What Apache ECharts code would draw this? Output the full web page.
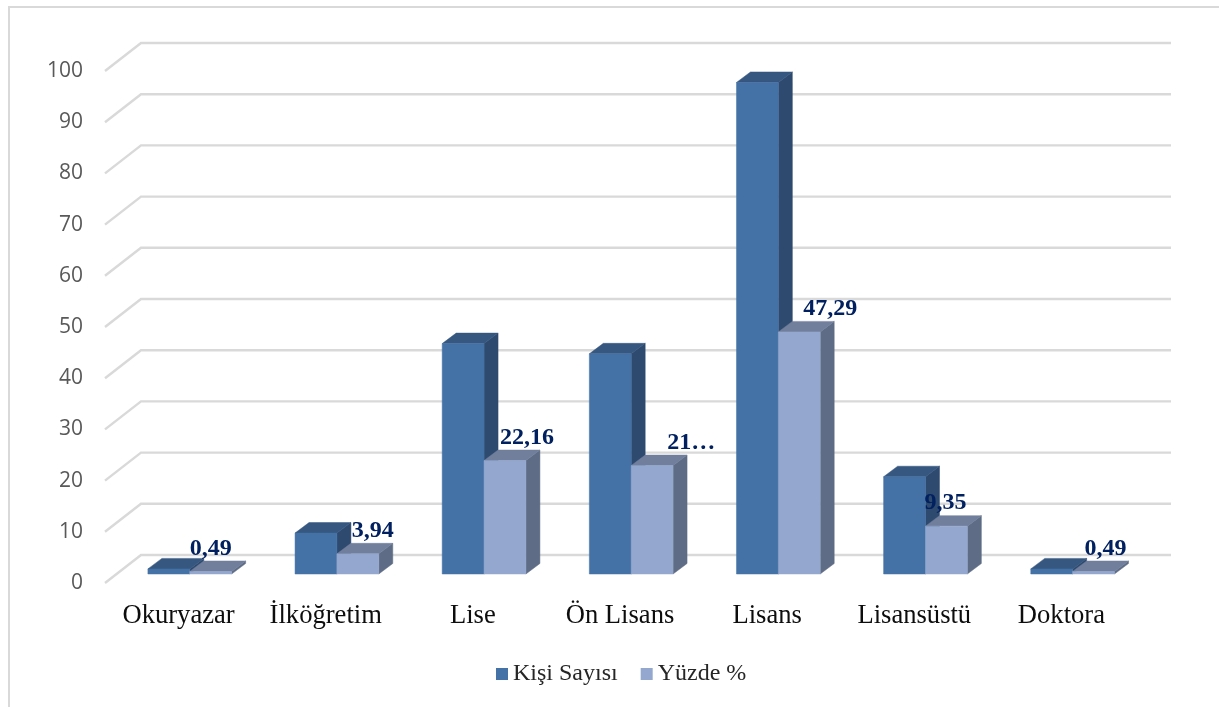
<!DOCTYPE html>
<html>
<head>
<meta charset="utf-8">
<style>html,body{margin:0;padding:0;background:#fff}#c{width:1219px;height:707px}</style>
<script src="https://cdn.jsdelivr.net/npm/echarts@6/dist/echarts.min.js"></script>
</head>
<body>
<div id="c"></div>
<script>
const categories = ['Okuryazar', 'İlköğretim', 'Lise', 'Ön Lisans', 'Lisans', 'Lisansüstü', 'Doktora'];
const kisiSayisi = [1, 8, 45, 43, 96, 19, 1];
const yuzde = [0.49, 3.94, 22.16, 21.18, 47.29, 9.35, 0.49];
const yuzdeLabels = ['0,49', '3,94', '22,16', '21…', '47,29', '9,35', '0,49'];
const valueTicks = [0, 10, 20, 30, 40, 50, 60, 70, 80, 90, 100];

const labelShiftX = [0, 15, 22, 39, 31, -1, 12];
const WALL = {dx: 36, dy: -28};
const FLOOR = {dx: 11.2, dy: -9};
const BAR = {dx: 14, dy: -10.5, frac: 0.2845};
const serif = '"Liberation Serif", serif';

function box(api, idx, val, side, cols) {
  const c = api.coord([idx, 0]);
  const w = api.size([1, 0])[0] * BAR.frac;
  const h = api.size([0, val])[1];
  const x0 = c[0] + FLOOR.dx + (side === 0 ? -w : 0);
  const y0 = c[1] + FLOOR.dy;
  const yt = y0 - h;
  const poly = (pts, fill) => ({type: 'polygon', shape: {points: pts}, style: {fill: fill, stroke: fill, lineWidth: 0.5}});
  return {
    type: 'group',
    children: [
      poly([[x0 + w, y0], [x0 + w + BAR.dx, y0 + BAR.dy], [x0 + w + BAR.dx, yt + BAR.dy], [x0 + w, yt]], cols[2]),
      poly([[x0, yt], [x0 + BAR.dx, yt + BAR.dy], [x0 + w + BAR.dx, yt + BAR.dy], [x0 + w, yt]], cols[1]),
      poly([[x0, y0], [x0 + w, y0], [x0 + w, yt], [x0, yt]], cols[0])
    ]
  };
}

const blue = ['#4472A6', '#36577F', '#2E4A6E'];
const light = ['#94A8CF', '#717F9D', '#5E6C85'];

const chart = echarts.init(document.getElementById('c'), null, {renderer: 'canvas'});
chart.setOption({
  animation: false,
  backgroundColor: '#fff',
  graphic: [{
    type: 'polyline',
    shape: {points: [[9, 707], [9, 7], [1219, 7]]},
    style: {stroke: '#D9D9D9', lineWidth: 2, fill: null},
    silent: true
  }],
  grid: {left: 105, top: 71, width: 1030, height: 512, containLabel: false},
  legend: {
    data: ['Kişi Sayısı', 'Yüzde %'],
    left: 496, top: 662, padding: 0,
    itemWidth: 12, itemHeight: 12, itemGap: 23,
    icon: 'rect',
    textStyle: {fontFamily: serif, fontSize: 24, color: '#262626'}
  },
  xAxis: {
    type: 'category', data: categories,
    axisLine: {show: false}, axisTick: {show: false},
    axisLabel: {fontFamily: serif, fontSize: 26.6, color: '#0d0d0d', margin: 20, interval: 0}
  },
  yAxis: {
    type: 'value', min: 0, max: 100, interval: 10,
    splitLine: {show: false}, axisLine: {show: false}, axisTick: {show: false},
    axisLabel: {fontFamily: '"Open Sans", sans-serif', fontSize: 21, color: '#595959', margin: 22, padding: [3, 0, 0, 0]}
  },
  series: [
    {
      type: 'custom', name: 'grid3d', silent: true, z: 1,
      data: valueTicks.map(t => [0, t]),
      renderItem(params, api) {
        const cs = params.coordSys;
        const y = api.coord([0, api.value(1)])[1];
        return {
          type: 'polyline',
          shape: {points: [[cs.x, y], [cs.x + WALL.dx, y + WALL.dy], [cs.x + cs.width + WALL.dx, y + WALL.dy]]},
          style: {stroke: '#D9D9D9', lineWidth: 2.4, fill: null}
        };
      }
    },
    {
      type: 'custom', name: 'Kişi Sayısı', z: 2, silent: true,
      itemStyle: {color: blue[0]},
      data: kisiSayisi.map((v, i) => [i, v]),
      renderItem(params, api) { return box(api, api.value(0), api.value(1), 0, blue); }
    },
    {
      type: 'custom', name: 'Yüzde %', z: 3, silent: true,
      itemStyle: {color: light[0]},
      data: yuzde.map((v, i) => [i, v]),
      renderItem(params, api) { return box(api, api.value(0), api.value(1), 1, light); }
    },
    {
      type: 'custom', name: 'labels', z: 4, silent: true,
      data: yuzde.map((v, i) => [i, v]),
      renderItem(params, api) {
        const i = api.value(0);
        const c = api.coord([i, api.value(1)]);
        const w = api.size([1, 0])[0] * BAR.frac;
        return {
          type: 'text',
          style: {
            x: c[0] + FLOOR.dx + w / 2 + labelShiftX[i],
            y: c[1] + FLOOR.dy - 23,
            text: yuzdeLabels[i],
            fontFamily: serif, fontSize: 24, fontWeight: 'bold', fill: '#002060',
            align: 'center', verticalAlign: 'middle'
          }
        };
      }
    }
  ]
});
</script>
</body>
</html>
